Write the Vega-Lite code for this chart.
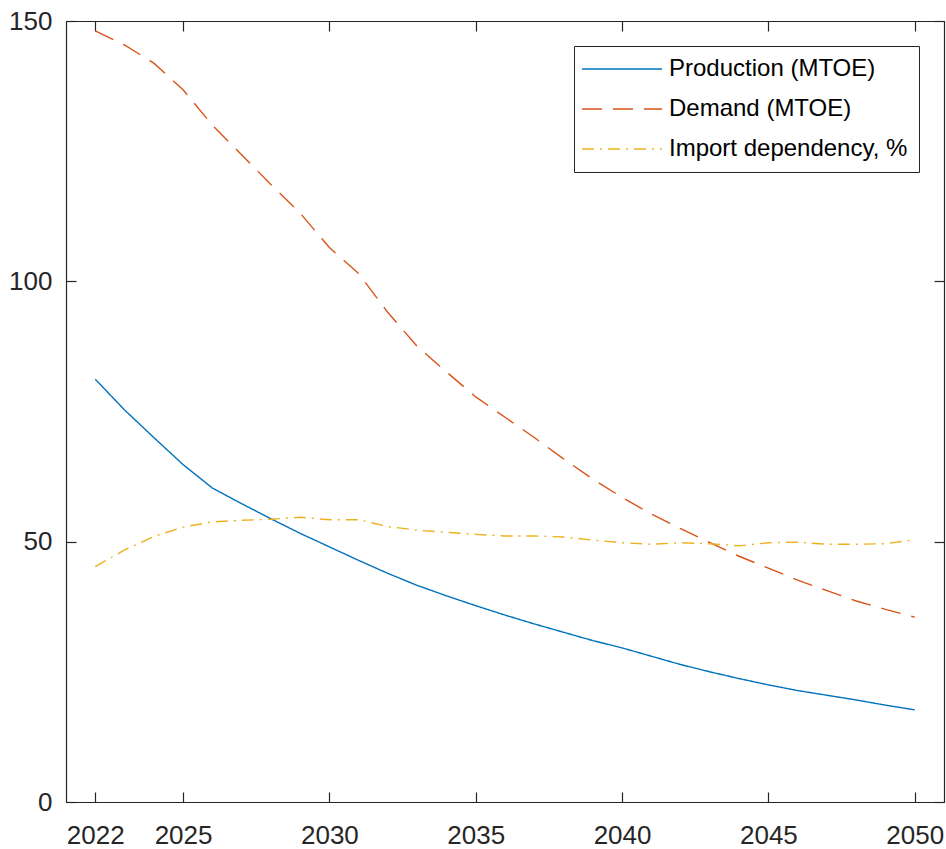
{
  "$schema": "https://vega.github.io/schema/vega-lite/v6.json",
  "width": 878,
  "height": 781,
  "autosize": {"type": "none"},
  "padding": {"left": 66, "top": 21, "right": 2, "bottom": 47},
  "background": "white",
  "config": {
    "view": {"stroke": "#262626", "strokeWidth": 1},
    "font": "Liberation Sans",
    "axis": {
      "domainColor": "#262626",
      "tickColor": "#262626",
      "labelColor": "#262626",
      "labelFont": "Liberation Sans",
      "labelFontSize": 26,
      "tickSize": -10,
      "tickWidth": 1.2,
      "domainWidth": 1.2,
      "grid": false,
      "title": null
    },
    "legend": {
      "title": null,
      "orient": "none",
      "legendX": 508,
      "legendY": 25,
      "symbolType": "M-3,0L13,0",
      "symbolSize": 100,
      "symbolStrokeWidth": 1.6,
      "labelFontSize": 24,
      "labelFont": "Liberation Sans",
      "labelColor": "#000000",
      "labelOffset": 60,
      "labelLimit": 400,
      "rowPadding": 16,
      "padding": 11,
      "strokeColor": "#262626",
      "fillColor": "white"
    }
  },
  "data": {
    "values": [
      {"year": 2022, "series": "Production (MTOE)", "value": 81.2},
      {"year": 2023, "series": "Production (MTOE)", "value": 75.3},
      {"year": 2024, "series": "Production (MTOE)", "value": 70.0},
      {"year": 2025, "series": "Production (MTOE)", "value": 64.8},
      {"year": 2026, "series": "Production (MTOE)", "value": 60.3},
      {"year": 2027, "series": "Production (MTOE)", "value": 57.3},
      {"year": 2028, "series": "Production (MTOE)", "value": 54.4},
      {"year": 2029, "series": "Production (MTOE)", "value": 51.6},
      {"year": 2030, "series": "Production (MTOE)", "value": 49.0},
      {"year": 2031, "series": "Production (MTOE)", "value": 46.4},
      {"year": 2032, "series": "Production (MTOE)", "value": 43.9},
      {"year": 2033, "series": "Production (MTOE)", "value": 41.6},
      {"year": 2034, "series": "Production (MTOE)", "value": 39.6},
      {"year": 2035, "series": "Production (MTOE)", "value": 37.7},
      {"year": 2036, "series": "Production (MTOE)", "value": 35.9},
      {"year": 2037, "series": "Production (MTOE)", "value": 34.2},
      {"year": 2038, "series": "Production (MTOE)", "value": 32.6},
      {"year": 2039, "series": "Production (MTOE)", "value": 31.0},
      {"year": 2040, "series": "Production (MTOE)", "value": 29.6},
      {"year": 2041, "series": "Production (MTOE)", "value": 28.0},
      {"year": 2042, "series": "Production (MTOE)", "value": 26.4},
      {"year": 2043, "series": "Production (MTOE)", "value": 25.0},
      {"year": 2044, "series": "Production (MTOE)", "value": 23.7},
      {"year": 2045, "series": "Production (MTOE)", "value": 22.5},
      {"year": 2046, "series": "Production (MTOE)", "value": 21.4},
      {"year": 2047, "series": "Production (MTOE)", "value": 20.5},
      {"year": 2048, "series": "Production (MTOE)", "value": 19.6},
      {"year": 2049, "series": "Production (MTOE)", "value": 18.6},
      {"year": 2050, "series": "Production (MTOE)", "value": 17.7},
      {"year": 2022, "series": "Demand (MTOE)", "value": 148.1},
      {"year": 2023, "series": "Demand (MTOE)", "value": 145.4},
      {"year": 2024, "series": "Demand (MTOE)", "value": 141.9},
      {"year": 2025, "series": "Demand (MTOE)", "value": 136.8},
      {"year": 2026, "series": "Demand (MTOE)", "value": 130.0},
      {"year": 2027, "series": "Demand (MTOE)", "value": 124.3},
      {"year": 2028, "series": "Demand (MTOE)", "value": 118.6},
      {"year": 2029, "series": "Demand (MTOE)", "value": 113.1},
      {"year": 2030, "series": "Demand (MTOE)", "value": 106.5},
      {"year": 2031, "series": "Demand (MTOE)", "value": 101.5},
      {"year": 2032, "series": "Demand (MTOE)", "value": 94.0},
      {"year": 2033, "series": "Demand (MTOE)", "value": 87.5},
      {"year": 2034, "series": "Demand (MTOE)", "value": 82.6},
      {"year": 2035, "series": "Demand (MTOE)", "value": 77.8},
      {"year": 2036, "series": "Demand (MTOE)", "value": 73.9},
      {"year": 2037, "series": "Demand (MTOE)", "value": 70.0},
      {"year": 2038, "series": "Demand (MTOE)", "value": 65.9},
      {"year": 2039, "series": "Demand (MTOE)", "value": 62.0},
      {"year": 2040, "series": "Demand (MTOE)", "value": 58.5},
      {"year": 2041, "series": "Demand (MTOE)", "value": 55.3},
      {"year": 2042, "series": "Demand (MTOE)", "value": 52.5},
      {"year": 2043, "series": "Demand (MTOE)", "value": 49.8},
      {"year": 2044, "series": "Demand (MTOE)", "value": 47.2},
      {"year": 2045, "series": "Demand (MTOE)", "value": 44.9},
      {"year": 2046, "series": "Demand (MTOE)", "value": 42.6},
      {"year": 2047, "series": "Demand (MTOE)", "value": 40.6},
      {"year": 2048, "series": "Demand (MTOE)", "value": 38.6},
      {"year": 2049, "series": "Demand (MTOE)", "value": 37.0},
      {"year": 2050, "series": "Demand (MTOE)", "value": 35.5},
      {"year": 2022, "series": "Import dependency, %", "value": 45.2},
      {"year": 2023, "series": "Import dependency, %", "value": 48.4},
      {"year": 2024, "series": "Import dependency, %", "value": 51.0},
      {"year": 2025, "series": "Import dependency, %", "value": 52.8},
      {"year": 2026, "series": "Import dependency, %", "value": 53.8},
      {"year": 2027, "series": "Import dependency, %", "value": 54.1},
      {"year": 2028, "series": "Import dependency, %", "value": 54.3},
      {"year": 2029, "series": "Import dependency, %", "value": 54.7},
      {"year": 2030, "series": "Import dependency, %", "value": 54.2},
      {"year": 2031, "series": "Import dependency, %", "value": 54.2},
      {"year": 2032, "series": "Import dependency, %", "value": 52.9},
      {"year": 2033, "series": "Import dependency, %", "value": 52.2},
      {"year": 2034, "series": "Import dependency, %", "value": 51.8},
      {"year": 2035, "series": "Import dependency, %", "value": 51.4},
      {"year": 2036, "series": "Import dependency, %", "value": 51.1},
      {"year": 2037, "series": "Import dependency, %", "value": 51.1},
      {"year": 2038, "series": "Import dependency, %", "value": 50.9},
      {"year": 2039, "series": "Import dependency, %", "value": 50.3},
      {"year": 2040, "series": "Import dependency, %", "value": 49.8},
      {"year": 2041, "series": "Import dependency, %", "value": 49.5},
      {"year": 2042, "series": "Import dependency, %", "value": 49.8},
      {"year": 2043, "series": "Import dependency, %", "value": 49.6},
      {"year": 2044, "series": "Import dependency, %", "value": 49.2},
      {"year": 2045, "series": "Import dependency, %", "value": 49.8},
      {"year": 2046, "series": "Import dependency, %", "value": 49.9},
      {"year": 2047, "series": "Import dependency, %", "value": 49.5},
      {"year": 2048, "series": "Import dependency, %", "value": 49.5},
      {"year": 2049, "series": "Import dependency, %", "value": 49.6},
      {"year": 2050, "series": "Import dependency, %", "value": 50.4}
    ]
  },
  "layer": [
    {
      "mark": {"type": "line", "strokeWidth": 1.4, "clip": true},
      "encoding": {
        "x": {
          "field": "year", "type": "quantitative",
          "scale": {"domain": [2021, 2051], "nice": false, "zero": false},
          "axis": {"orient": "bottom", "values": [2022, 2025, 2030, 2035, 2040, 2045, 2050], "format": "d", "labelPadding": 30, "labelFlush": false}
        },
        "y": {
          "field": "value", "type": "quantitative",
          "scale": {"domain": [0, 150], "nice": false},
          "axis": {"orient": "left", "values": [0, 50, 100, 150], "labelPadding": 24}
        },
        "color": {
          "field": "series", "type": "nominal",
          "scale": {
            "domain": ["Production (MTOE)", "Demand (MTOE)", "Import dependency, %"],
            "range": ["#0072BD", "#D95319", "#EDB120"]
          },
          "legend": {"title": null}
        },
        "strokeDash": {
          "field": "series", "type": "nominal",
          "scale": {
            "domain": ["Production (MTOE)", "Demand (MTOE)", "Import dependency, %"],
            "range": [[1, 0], [20, 11], [12, 6, 2, 6]]
          },
          "legend": {"title": null}
        }
      }
    },
    {
      "mark": {"type": "line", "opacity": 0},
      "encoding": {
        "x": {
          "field": "year", "type": "quantitative",
          "axis": {"orient": "top", "values": [2022, 2025, 2030, 2035, 2040, 2045, 2050], "labels": false}
        },
        "y": {
          "field": "value", "type": "quantitative",
          "axis": {"orient": "right", "values": [0, 50, 100, 150], "labels": false}
        },
        "detail": {"field": "series"}
      }
    }
  ],
  "resolve": {"axis": {"x": "independent", "y": "independent"}}
}
